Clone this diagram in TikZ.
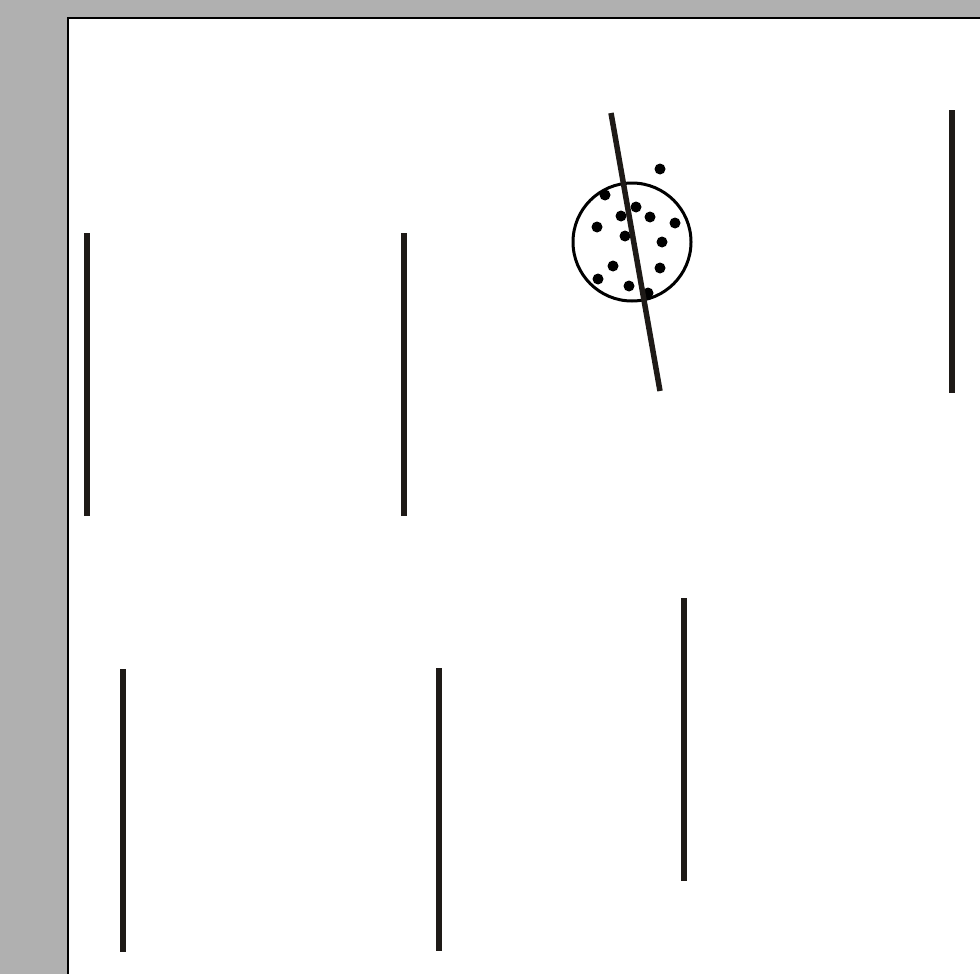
\documentclass[tikz,border=0pt]{standalone}
\usepackage{tikz}
\usetikzlibrary{positioning, calc}
\usepackage{xcolor}
\definecolor{PageGray}{HTML}{B0B0B0}
\definecolor{RodBlack}{HTML}{1E1A17}
\tikzset{
    % Rod styles
    rod/.style={
        draw=RodBlack,
        line width=5.5pt
    },
    % Cluster styles
    clusterring/.style={
        circle,
        draw=black,
        line width=3pt,
        minimum size=118pt,
        inner sep=0pt
    },
    particle/.style={
        fill=black
    }
}
\begin{document}
\begin{tikzpicture}[x=1pt, y=-1pt]
    % Background and sheet
    \useasboundingbox (0,0) rectangle (980,974);
    \clip (0,0) rectangle (980,974);
    \fill[PageGray] (0,0) rectangle (980,974);
    \filldraw[fill=white, draw=black, line width=2pt] (68,18) rectangle (990,990);

    % Upper row of rods
    \draw[rod] (87,233) -- (87,516);
    \draw[rod] (404,233) -- (404,516);
    \draw[rod] (952,110) -- (952,393);

    % Lower row of rods
    \draw[rod] (123,669) -- (123,952);
    \draw[rod] (439,668) -- (439,951);
    \draw[rod] (684,598) -- (684,881);

    % Cluster with tilted rod
    \node[clusterring] (ring) at (632,242) {};
    \foreach \px/\py in {660/169, 605/195, 636/207, 621/216, 650/217,
                         675/223, 597/227, 625/236, 662/242, 613/266,
                         660/268, 598/279, 629/286, 648/293}
        \fill[particle] (\px,\py) circle (5.5pt);
    \draw[rod] (611,113) -- (660,391);
\end{tikzpicture}
\end{document}
